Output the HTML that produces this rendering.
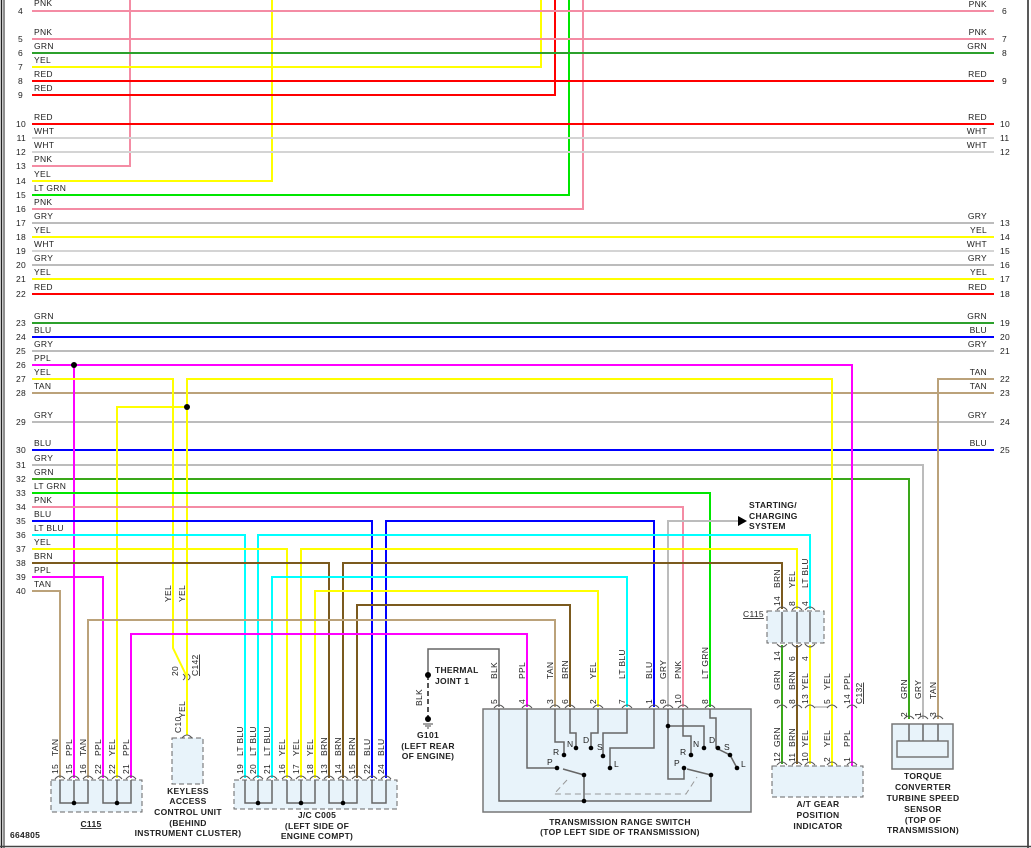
<!DOCTYPE html>
<html><head><meta charset="utf-8"><style>
html,body{margin:0;padding:0;background:#fff;}
svg{display:block;font-family:"Liberation Sans",sans-serif;}
text{font-size:8.5px;fill:#222;letter-spacing:0.3px;}
.n{fill:#333;}
.w{fill:none;stroke-width:2;}
.g{fill:none;stroke:#666;stroke-width:1.5;}
.b{font-weight:bold;font-size:8px;}
</style></head><body>
<svg width="1031" height="848" viewBox="0 0 1031 848" xmlns="http://www.w3.org/2000/svg">
<rect x="0" y="0" width="1031" height="848" fill="#fff"/>
<line x1="1.5" y1="0" x2="1.5" y2="848" stroke="#222" stroke-width="1.5"/>
<line x1="4" y1="0" x2="4" y2="848" stroke="#222" stroke-width="1"/>
<line x1="1028" y1="0" x2="1028" y2="848" stroke="#222" stroke-width="1.5"/>
<line x1="0" y1="846.5" x2="1031" y2="846.5" stroke="#444" stroke-width="1.5"/>

<!-- row numbers -->
<g class="n" text-anchor="end">
<text x="23" y="14">4</text><text x="23" y="42">5</text><text x="23" y="56">6</text><text x="23" y="70">7</text><text x="23" y="84">8</text><text x="23" y="98">9</text>
<text x="26" y="127">10</text><text x="26" y="141">11</text><text x="26" y="155">12</text><text x="26" y="169">13</text><text x="26" y="184">14</text><text x="26" y="198">15</text><text x="26" y="212">16</text><text x="26" y="226">17</text><text x="26" y="240">18</text><text x="26" y="254">19</text><text x="26" y="268">20</text><text x="26" y="282">21</text><text x="26" y="297">22</text>
<text x="26" y="326">23</text><text x="26" y="340">24</text><text x="26" y="354">25</text><text x="26" y="368">26</text><text x="26" y="382">27</text><text x="26" y="396">28</text><text x="26" y="425">29</text><text x="26" y="453">30</text><text x="26" y="468">31</text><text x="26" y="482">32</text><text x="26" y="496">33</text><text x="26" y="510">34</text><text x="26" y="524">35</text><text x="26" y="538">36</text><text x="26" y="552">37</text><text x="26" y="566">38</text><text x="26" y="580">39</text><text x="26" y="594">40</text>
</g>
<g>
<text x="34" y="6">PNK</text><text x="34" y="35">PNK</text><text x="34" y="49">GRN</text><text x="34" y="63">YEL</text><text x="34" y="77">RED</text><text x="34" y="91">RED</text>
<text x="34" y="120">RED</text><text x="34" y="134">WHT</text><text x="34" y="148">WHT</text><text x="34" y="162">PNK</text><text x="34" y="177">YEL</text><text x="34" y="191">LT GRN</text><text x="34" y="205">PNK</text><text x="34" y="219">GRY</text><text x="34" y="233">YEL</text><text x="34" y="247">WHT</text><text x="34" y="261">GRY</text><text x="34" y="275">YEL</text><text x="34" y="290">RED</text>
<text x="34" y="319">GRN</text><text x="34" y="333">BLU</text><text x="34" y="347">GRY</text><text x="34" y="361">PPL</text><text x="34" y="375">YEL</text><text x="34" y="389">TAN</text><text x="34" y="418">GRY</text><text x="34" y="446">BLU</text><text x="34" y="461">GRY</text><text x="34" y="475">GRN</text><text x="34" y="489">LT GRN</text><text x="34" y="503">PNK</text><text x="34" y="517">BLU</text><text x="34" y="531">LT BLU</text><text x="34" y="545">YEL</text><text x="34" y="559">BRN</text><text x="34" y="573">PPL</text><text x="34" y="587">TAN</text>
</g>
<!-- right labels -->
<g text-anchor="end">
<text x="987" y="7">PNK</text><text x="987" y="35">PNK</text><text x="987" y="49">GRN</text><text x="987" y="77">RED</text><text x="987" y="120">RED</text><text x="987" y="134">WHT</text><text x="987" y="148">WHT</text>
<text x="987" y="219">GRY</text><text x="987" y="233">YEL</text><text x="987" y="247">WHT</text><text x="987" y="261">GRY</text><text x="987" y="275">YEL</text><text x="987" y="290">RED</text>
<text x="987" y="319">GRN</text><text x="987" y="333">BLU</text><text x="987" y="347">GRY</text><text x="987" y="375">TAN</text><text x="987" y="389">TAN</text><text x="987" y="418">GRY</text><text x="987" y="446">BLU</text>
</g>
<g class="n">
<text x="1002" y="14">6</text><text x="1002" y="42">7</text><text x="1002" y="56">8</text><text x="1002" y="84">9</text><text x="1000" y="127">10</text><text x="1000" y="141">11</text><text x="1000" y="155">12</text>
<text x="1000" y="226">13</text><text x="1000" y="240">14</text><text x="1000" y="254">15</text><text x="1000" y="268">16</text><text x="1000" y="282">17</text><text x="1000" y="297">18</text>
<text x="1000" y="326">19</text><text x="1000" y="340">20</text><text x="1000" y="354">21</text><text x="1000" y="382">22</text><text x="1000" y="396">23</text><text x="1000" y="425">24</text><text x="1000" y="453">25</text>
</g>

<!-- top wires -->
<g class="w">
<path d="M130 0V166H32" stroke="#f48ca4"/>
<path d="M272 0V181H32" stroke="#ffff00"/>
<path d="M541 0V67H32" stroke="#ffff00"/>
<path d="M555 0V95H32" stroke="#ff0000"/>
<path d="M569 0V195H32" stroke="#00e600"/>
<path d="M583 0V209H32" stroke="#f48ca4"/>
<path d="M32 11H994" stroke="#f48ca4"/>
<path d="M32 39H994" stroke="#f48ca4"/>
<path d="M32 53H994" stroke="#2ca02c"/>
<path d="M32 81H994" stroke="#ff0000"/>
<path d="M32 124H994" stroke="#ff0000"/>
<path d="M32 138H994" stroke="#d4d4d4"/>
<path d="M32 152H994" stroke="#d4d4d4"/>
<path d="M32 223H994" stroke="#bcbcbc"/>
<path d="M32 237H994" stroke="#ffff00"/>
<path d="M32 251H994" stroke="#d4d4d4"/>
<path d="M32 265H994" stroke="#bcbcbc"/>
<path d="M32 279H994" stroke="#ffff00"/>
<path d="M32 294H994" stroke="#ff0000"/>
<path d="M32 323H994" stroke="#2ca02c"/>
<path d="M32 337H994" stroke="#0000ff"/>
<path d="M32 351H994" stroke="#bcbcbc"/>
<path d="M32 393H994" stroke="#bba27a"/>
<path d="M32 422H994" stroke="#bcbcbc"/>
<path d="M32 450H994" stroke="#0000ff"/>
<path d="M994 379H938V719" stroke="#bba27a"/>
<path d="M32 465H923V719" stroke="#bcbcbc"/>
<path d="M32 479H909V719" stroke="#3aa81a"/>
<!-- lower wires -->
<path d="M32 365H852V766" stroke="#ff00ff"/>
<path d="M74 365V778" stroke="#ff00ff"/>
<path d="M32 379H173V648L187 677" stroke="#ffff00"/>
<path d="M832 766V379H187V677V735" stroke="#ffff00"/>
<path d="M117 778V407H187" stroke="#ffff00"/>
<path d="M32 493H710V707" stroke="#00e600"/>
<path d="M32 507H683V707" stroke="#f48ca4"/>
<path d="M32 521H372V778" stroke="#0000ff"/>
<path d="M386 778V521H654V707" stroke="#0000ff"/>
<path d="M668 707V521H738" stroke="#bcbcbc"/>
<path d="M32 535H245V778" stroke="#00ffff"/>
<path d="M258 778V535H810V609" stroke="#00ffff"/>
<path d="M32 549H287V778" stroke="#ffff00"/>
<path d="M301 778V549H797V609" stroke="#ffff00"/>
<path d="M32 563H329V778" stroke="#7b5a1e"/>
<path d="M343 778V563H782V609" stroke="#7b5a1e"/>
<path d="M32 577H103V778" stroke="#ff00ff"/>
<path d="M32 591H60V778" stroke="#bba27a"/>
<path d="M272 778V577H627V707" stroke="#00ffff"/>
<path d="M315 778V591H598V707" stroke="#ffff00"/>
<path d="M357 778V605H570V707" stroke="#7b5a1e"/>
<path d="M88 778V620H555V707" stroke="#bba27a"/>
<path d="M131 778V634H527V707" stroke="#ff00ff"/>
<path d="M782 645V764" stroke="#3aa81a"/>
<path d="M797 645V764" stroke="#7b5a1e"/>
<path d="M810 645V764" stroke="#ffff00"/>
</g>
<line x1="815" y1="707" x2="828" y2="707" stroke="#bbb" stroke-width="1.5"/>
<path d="M428 675V649H499V707" class="g"/>
<line x1="428" y1="675" x2="428" y2="719" stroke="#555" stroke-width="2" stroke-dasharray="5,3"/>
<circle cx="428" cy="675" r="3" fill="#000"/><circle cx="428" cy="719" r="3" fill="#000"/>
<path d="M423 724H433M425 726H431M427 728H429" stroke="#444" stroke-width="1"/>
<circle cx="74" cy="365" r="3" fill="#000"/><circle cx="187" cy="407" r="3" fill="#000"/>
<polygon points="738,516 747,521 738,526" fill="#000"/>

<!-- C115 left -->
<rect x="51" y="780" width="91" height="32" fill="#e8f3fa" stroke="#666" stroke-dasharray="5,3"/>
<path class="g" d="M60 780V803H74V780M88 780V803H74M103 780V803H117V780M131 780V803H117"/>
<circle cx="74" cy="803" r="2.3" fill="#000"/><circle cx="117" cy="803" r="2.3" fill="#000"/>
<!-- JC C005 -->
<rect x="234" y="780" width="163" height="29" fill="#e8f3fa" stroke="#666" stroke-dasharray="5,3"/>
<path class="g" d="M245 780V803H272V780M258 780V803M287 780V803H315V780M301 780V803M329 780V803H357V780M343 780V803M372 780V803H386V780"/>
<circle cx="258" cy="803" r="2.3" fill="#000"/><circle cx="301" cy="803" r="2.3" fill="#000"/><circle cx="343" cy="803" r="2.3" fill="#000"/>
<!-- keyless -->
<rect x="172" y="738" width="31" height="46" fill="#e8f3fa" stroke="#666" stroke-dasharray="5,3"/>
<!-- pin arcs -->
<g fill="none" stroke="#555" stroke-width="1">
<path d="M55 779q5-6 10 0M69 779q5-6 10 0M83 779q5-6 10 0M98 779q5-6 10 0M112 779q5-6 10 0M126 779q5-6 10 0"/>
<path d="M240 779q5-6 10 0M253 779q5-6 10 0M267 779q5-6 10 0M282 779q5-6 10 0M296 779q5-6 10 0M310 779q5-6 10 0M324 779q5-6 10 0M338 779q5-6 10 0M352 779q5-6 10 0M367 779q5-6 10 0M381 779q5-6 10 0"/>
<path d="M182 738q5-6 10 0"/>
<path d="M494 708q5-6 10 0M522 708q5-6 10 0M550 708q5-6 10 0M565 708q5-6 10 0M593 708q5-6 10 0M622 708q5-6 10 0M649 708q5-6 10 0M663 708q5-6 10 0M678 708q5-6 10 0M705 708q5-6 10 0"/>
<path d="M777 610q5-6 10 0M792 610q5-6 10 0M805 610q5-6 10 0"/>
<path d="M777 644q5 6 10 0M792 644q5 6 10 0M805 644q5 6 10 0"/>
<path d="M777 708q5-6 10 0M792 708q5-6 10 0M805 708q5-6 10 0M827 708q5-6 10 0M847 708q5-6 10 0"/>
<path d="M777 765q5-6 10 0M792 765q5-6 10 0M805 765q5-6 10 0M827 765q5-6 10 0M847 765q5-6 10 0"/>
<path d="M904 719q5-6 10 0M918 719q5-6 10 0M933 719q5-6 10 0"/>
<path d="M183 680q4-3 0-6M188 680q4-3 0-6"/>
</g>
<!-- C115 right -->
<rect x="767" y="611" width="57" height="32" fill="#e8f3fa" stroke="#666" stroke-dasharray="5,3"/>
<path class="g" d="M782 612V642M797 612V642M810 612V642"/>
<!-- gear indicator -->
<rect x="772" y="766" width="91" height="31" fill="#e8f3fa" stroke="#666" stroke-dasharray="5,3"/>
<!-- torque -->
<rect x="892" y="724" width="61" height="45" fill="#e8f3fa" stroke="#777" stroke-width="1.5"/>
<rect x="897" y="741" width="51" height="16" fill="#e8f3fa" stroke="#777" stroke-width="1.5"/>
<path class="g" d="M909 724V741M923 724V741M938 724V741"/>

<!-- TRS -->
<rect x="483" y="709" width="268" height="103" fill="#e8f3fa" stroke="#777" stroke-width="1.5"/>
<g class="g">
<path d="M499 709V801H711V775"/>
<path d="M584 775V801"/>
<path d="M527 709V768H557"/>
<path d="M584 775L563 769"/>
<path d="M555 709V742H564V755"/>
<path d="M570 709V733H576V748"/>
<path d="M598 709V733H591V748"/>
<path d="M627 709V733H603V756"/>
<path d="M654 709V748H610V768"/>
<path d="M668 709V779H684V768"/>
<path d="M668 726H704V748"/>
<path d="M683 709V736H691V755"/>
<path d="M710 709V718H716V748L730 755L737 768"/>
<path d="M711 775L687 769"/>
</g>
<path d="M567 780L554 794H686L697 777" fill="none" stroke="#999" stroke-width="1" stroke-dasharray="6,4"/>
<g fill="#000">
<circle cx="584" cy="801" r="2.3"/><circle cx="584" cy="775" r="2.3"/><circle cx="557" cy="768" r="2.3"/><circle cx="564" cy="755" r="2.3"/><circle cx="576" cy="748" r="2.3"/><circle cx="591" cy="748" r="2.3"/><circle cx="603" cy="756" r="2.3"/><circle cx="610" cy="768" r="2.3"/>
<circle cx="668" cy="726" r="2.3"/><circle cx="684" cy="768" r="2.3"/><circle cx="711" cy="775" r="2.3"/><circle cx="704" cy="748" r="2.3"/><circle cx="691" cy="755" r="2.3"/><circle cx="718" cy="748" r="2.3"/><circle cx="730" cy="755" r="2.3"/><circle cx="737" cy="768" r="2.3"/>
</g>
<g style="font-size:8px">
<text x="547" y="765">P</text><text x="553" y="755">R</text><text x="567" y="747">N</text><text x="583" y="743">D</text><text x="597" y="750">S</text><text x="614" y="767">L</text>
<text x="674" y="766">P</text><text x="680" y="755">R</text><text x="693" y="747">N</text><text x="709" y="743">D</text><text x="724" y="750">S</text><text x="741" y="767">L</text>
</g>

<!-- rotated labels -->
<g>
<text transform="translate(58,756) rotate(-90)">TAN</text><text transform="translate(72,756) rotate(-90)">PPL</text><text transform="translate(86,756) rotate(-90)">TAN</text><text transform="translate(101,756) rotate(-90)">PPL</text><text transform="translate(115,756) rotate(-90)">YEL</text><text transform="translate(129,756) rotate(-90)">PPL</text>
<text transform="translate(58,774) rotate(-90)">15</text><text transform="translate(72,774) rotate(-90)">15</text><text transform="translate(86,774) rotate(-90)">16</text><text transform="translate(101,774) rotate(-90)">22</text><text transform="translate(115,774) rotate(-90)">22</text><text transform="translate(129,774) rotate(-90)">21</text>
<text transform="translate(243,756) rotate(-90)">LT BLU</text><text transform="translate(256,756) rotate(-90)">LT BLU</text><text transform="translate(270,756) rotate(-90)">LT BLU</text><text transform="translate(285,756) rotate(-90)">YEL</text><text transform="translate(299,756) rotate(-90)">YEL</text><text transform="translate(313,756) rotate(-90)">YEL</text><text transform="translate(327,756) rotate(-90)">BRN</text><text transform="translate(341,756) rotate(-90)">BRN</text><text transform="translate(355,756) rotate(-90)">BRN</text><text transform="translate(370,756) rotate(-90)">BLU</text><text transform="translate(384,756) rotate(-90)">BLU</text>
<text transform="translate(243,774) rotate(-90)">19</text><text transform="translate(256,774) rotate(-90)">20</text><text transform="translate(270,774) rotate(-90)">21</text><text transform="translate(285,774) rotate(-90)">16</text><text transform="translate(299,774) rotate(-90)">17</text><text transform="translate(313,774) rotate(-90)">18</text><text transform="translate(327,774) rotate(-90)">13</text><text transform="translate(341,774) rotate(-90)">14</text><text transform="translate(355,774) rotate(-90)">15</text><text transform="translate(370,774) rotate(-90)">22</text><text transform="translate(384,774) rotate(-90)">24</text>
<text transform="translate(171,602) rotate(-90)">YEL</text><text transform="translate(185,602) rotate(-90)">YEL</text>
<text transform="translate(178,676) rotate(-90)">20</text><text transform="translate(198,676) rotate(-90)" text-decoration="underline">C142</text>
<text transform="translate(185,718) rotate(-90)">YEL</text><text transform="translate(181,733) rotate(-90)">C10</text>
<text transform="translate(422,706) rotate(-90)">BLK</text>
<text transform="translate(497,679) rotate(-90)">BLK</text><text transform="translate(525,679) rotate(-90)">PPL</text><text transform="translate(553,679) rotate(-90)">TAN</text><text transform="translate(568,679) rotate(-90)">BRN</text><text transform="translate(596,679) rotate(-90)">YEL</text><text transform="translate(625,679) rotate(-90)">LT BLU</text><text transform="translate(652,679) rotate(-90)">BLU</text><text transform="translate(666,679) rotate(-90)">GRY</text><text transform="translate(681,679) rotate(-90)">PNK</text><text transform="translate(708,679) rotate(-90)">LT GRN</text>
<text transform="translate(497,704) rotate(-90)">5</text><text transform="translate(525,704) rotate(-90)">4</text><text transform="translate(553,704) rotate(-90)">3</text><text transform="translate(568,704) rotate(-90)">6</text><text transform="translate(596,704) rotate(-90)">2</text><text transform="translate(625,704) rotate(-90)">7</text><text transform="translate(652,704) rotate(-90)">1</text><text transform="translate(666,704) rotate(-90)">9</text><text transform="translate(681,704) rotate(-90)">10</text><text transform="translate(708,704) rotate(-90)">8</text>
<text transform="translate(780,588) rotate(-90)">BRN</text><text transform="translate(795,588) rotate(-90)">YEL</text><text transform="translate(808,588) rotate(-90)">LT BLU</text>
<text transform="translate(780,606) rotate(-90)">14</text><text transform="translate(795,606) rotate(-90)">8</text><text transform="translate(808,606) rotate(-90)">4</text>
<text transform="translate(780,661) rotate(-90)">14</text><text transform="translate(795,661) rotate(-90)">6</text><text transform="translate(808,661) rotate(-90)">4</text>
<text transform="translate(780,690) rotate(-90)">GRN</text><text transform="translate(795,690) rotate(-90)">BRN</text><text transform="translate(808,690) rotate(-90)">YEL</text><text transform="translate(830,690) rotate(-90)">YEL</text><text transform="translate(850,690) rotate(-90)">PPL</text>
<text transform="translate(780,704) rotate(-90)">9</text><text transform="translate(795,704) rotate(-90)">8</text><text transform="translate(808,704) rotate(-90)">13</text><text transform="translate(830,704) rotate(-90)">5</text><text transform="translate(850,704) rotate(-90)">14</text><text transform="translate(862,704) rotate(-90)" text-decoration="underline">C132</text>
<text transform="translate(780,747) rotate(-90)">GRN</text><text transform="translate(795,747) rotate(-90)">BRN</text><text transform="translate(808,747) rotate(-90)">YEL</text><text transform="translate(830,747) rotate(-90)">YEL</text><text transform="translate(850,747) rotate(-90)">PPL</text>
<text transform="translate(780,762) rotate(-90)">12</text><text transform="translate(795,762) rotate(-90)">11</text><text transform="translate(808,762) rotate(-90)">10</text><text transform="translate(830,762) rotate(-90)">2</text><text transform="translate(850,762) rotate(-90)">1</text>
<text transform="translate(907,699) rotate(-90)">GRN</text><text transform="translate(921,699) rotate(-90)">GRY</text><text transform="translate(936,699) rotate(-90)">TAN</text>
<text transform="translate(907,717) rotate(-90)">2</text><text transform="translate(921,717) rotate(-90)">1</text><text transform="translate(936,717) rotate(-90)">3</text>
</g>
<text x="743" y="617" text-decoration="underline">C115</text>

<!-- captions -->
<g class="b" text-anchor="middle">
<text x="91" y="827" text-decoration="underline">C115</text>
<text x="188" y="794">KEYLESS</text><text x="188" y="804">ACCESS</text><text x="188" y="815">CONTROL UNIT</text><text x="188" y="826">(BEHIND</text><text x="188" y="836">INSTRUMENT CLUSTER)</text>
<text x="317" y="818">J/C C005</text><text x="317" y="829">(LEFT SIDE OF</text><text x="317" y="839">ENGINE COMPT)</text>
<text x="428" y="738">G101</text><text x="428" y="749">(LEFT REAR</text><text x="428" y="759">OF ENGINE)</text>
<text x="620" y="825">TRANSMISSION RANGE SWITCH</text><text x="620" y="835">(TOP LEFT SIDE OF TRANSMISSION)</text>
<text x="818" y="807">A/T GEAR</text><text x="818" y="818">POSITION</text><text x="818" y="829">INDICATOR</text>
<text x="923" y="779">TORQUE</text><text x="923" y="790">CONVERTER</text><text x="923" y="801">TURBINE SPEED</text><text x="923" y="812">SENSOR</text><text x="923" y="823">(TOP OF</text><text x="923" y="833">TRANSMISSION)</text>
</g>
<g class="b">
<text x="435" y="673">THERMAL</text><text x="435" y="684">JOINT 1</text>
<text x="749" y="508">STARTING/</text><text x="749" y="519">CHARGING</text><text x="749" y="529">SYSTEM</text>
<text x="10" y="838">664805</text>
</g>
</svg>
</body></html>
